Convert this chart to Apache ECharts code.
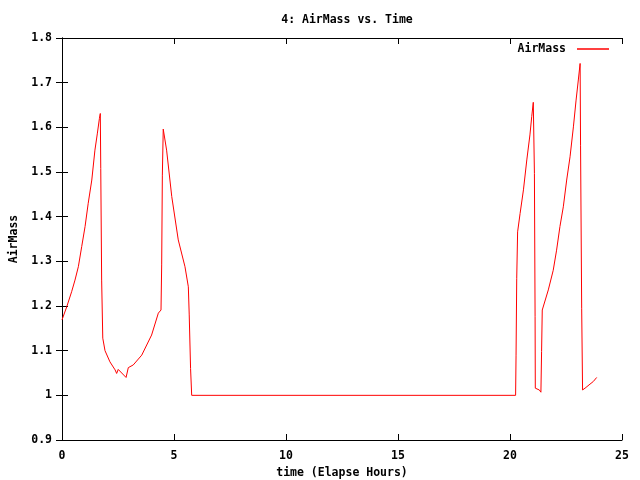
<!DOCTYPE html>
<html>
<head>
<meta charset="utf-8">
<script src="https://cdn.jsdelivr.net/npm/echarts@6/dist/echarts.min.js"></script>
<style>html,body{margin:0;padding:0;background:#fff}#c{width:640px;height:480px}</style>
</head>
<body>
<div id="c"></div>
<script>
const seriesName = "AirMass";
const titleText = "4: AirMass vs. Time";
const xName = "time (Elapse Hours)";
const yName = "AirMass";
const times = [0.0, 0.21, 0.43, 0.58, 0.73, 0.88, 1.03, 1.17, 1.33, 1.47, 1.58, 1.67, 1.71, 1.73, 1.77, 1.82, 1.92, 2.14, 2.37, 2.44, 2.51, 2.86, 2.96, 3.18, 3.56, 4.00, 4.30, 4.42, 4.45, 4.48, 4.52, 4.67, 4.90, 5.19, 5.49, 5.64, 5.68, 5.74, 5.79, 20.25, 20.27, 20.30, 20.34, 20.45, 20.60, 20.75, 20.89, 20.97, 21.04, 21.09, 21.12, 21.13, 21.31, 21.38, 21.41, 21.44, 21.71, 21.93, 22.08, 22.23, 22.38, 22.53, 22.68, 22.83, 22.95, 23.05, 23.13, 23.15, 23.20, 23.24, 23.35, 23.57, 23.72, 23.87];
const airmass = [1.169, 1.198, 1.232, 1.258, 1.288, 1.333, 1.378, 1.43, 1.482, 1.549, 1.587, 1.62, 1.631, 1.508, 1.258, 1.128, 1.10, 1.075, 1.057, 1.049, 1.058, 1.040, 1.062, 1.068, 1.09, 1.135, 1.184, 1.191, 1.292, 1.493, 1.596, 1.549, 1.445, 1.348, 1.288, 1.243, 1.18, 1.06, 1.0, 1.0, 1.09, 1.262, 1.366, 1.407, 1.46, 1.527, 1.583, 1.624, 1.656, 1.497, 1.176, 1.016, 1.012, 1.007, 1.098, 1.191, 1.236, 1.28, 1.325, 1.378, 1.422, 1.482, 1.534, 1.601, 1.661, 1.706, 1.743, 1.56, 1.195, 1.012, 1.016, 1.025, 1.031, 1.04];

const FONT = "DejaVu Sans Mono";
const txt = {color: "#000", fontFamily: FONT, fontSize: 11.5, fontWeight: "bold"};
const data = times.map((t, i) => [t, airmass[i]]);
const line = {show: true, lineStyle: {color: "#000", width: 1}};
const tick = {show: true, inside: true, length: 6, lineStyle: {color: "#000", width: 1}};

const chart = echarts.init(document.getElementById("c"), null, {renderer: "canvas"});
chart.setOption({
  animation: false,
  backgroundColor: "#fff",
  title: {text: titleText, left: 342, top: 9, textAlign: "center", textStyle: Object.assign({}, txt)},
  legend: {
    right: 31, top: 43, padding: 0, align: "right", icon: "rect", itemWidth: 32, itemHeight: 1.5, itemGap: 8,
    data: [seriesName], textStyle: Object.assign({padding: [0, 6, 0, 0]}, txt), selectedMode: false
  },
  grid: {left: 62, right: 18, top: 38, bottom: 40, containLabel: false, outerBoundsMode: "none"},
  xAxis: [
    {type: "value", min: 0, max: 25, interval: 5, position: "bottom",
     name: xName, nameLocation: "middle", nameGap: 26, nameTextStyle: Object.assign({}, txt),
     axisLine: line, axisTick: tick, splitLine: {show: false},
     axisLabel: Object.assign({margin: 10}, txt)},
    {type: "value", min: 0, max: 25, interval: 5, position: "top",
     axisLine: line, axisTick: tick, splitLine: {show: false}, axisLabel: {show: false}}
  ],
  yAxis: [
    {type: "value", min: 0.9, max: 1.8, interval: 0.1, position: "left",
     name: yName, nameLocation: "middle", nameGap: 41, nameTextStyle: Object.assign({}, txt),
     axisLine: line, axisTick: tick, splitLine: {show: false},
     axisLabel: Object.assign({margin: 10, formatter: v => String(Math.round(v * 10) / 10)}, txt)},
    {type: "value", min: 0.9, max: 1.8, interval: 0.1, position: "right",
     axisLine: line, axisTick: tick, splitLine: {show: false}, axisLabel: {show: false}}
  ],
  series: [{
    name: seriesName, type: "line", data: data, showSymbol: false, symbol: "none",
    lineStyle: {color: "#ff0000", width: 1}, itemStyle: {color: "#ff0000"}, xAxisIndex: 0, yAxisIndex: 0
  }]
});
</script>
</body>
</html>
